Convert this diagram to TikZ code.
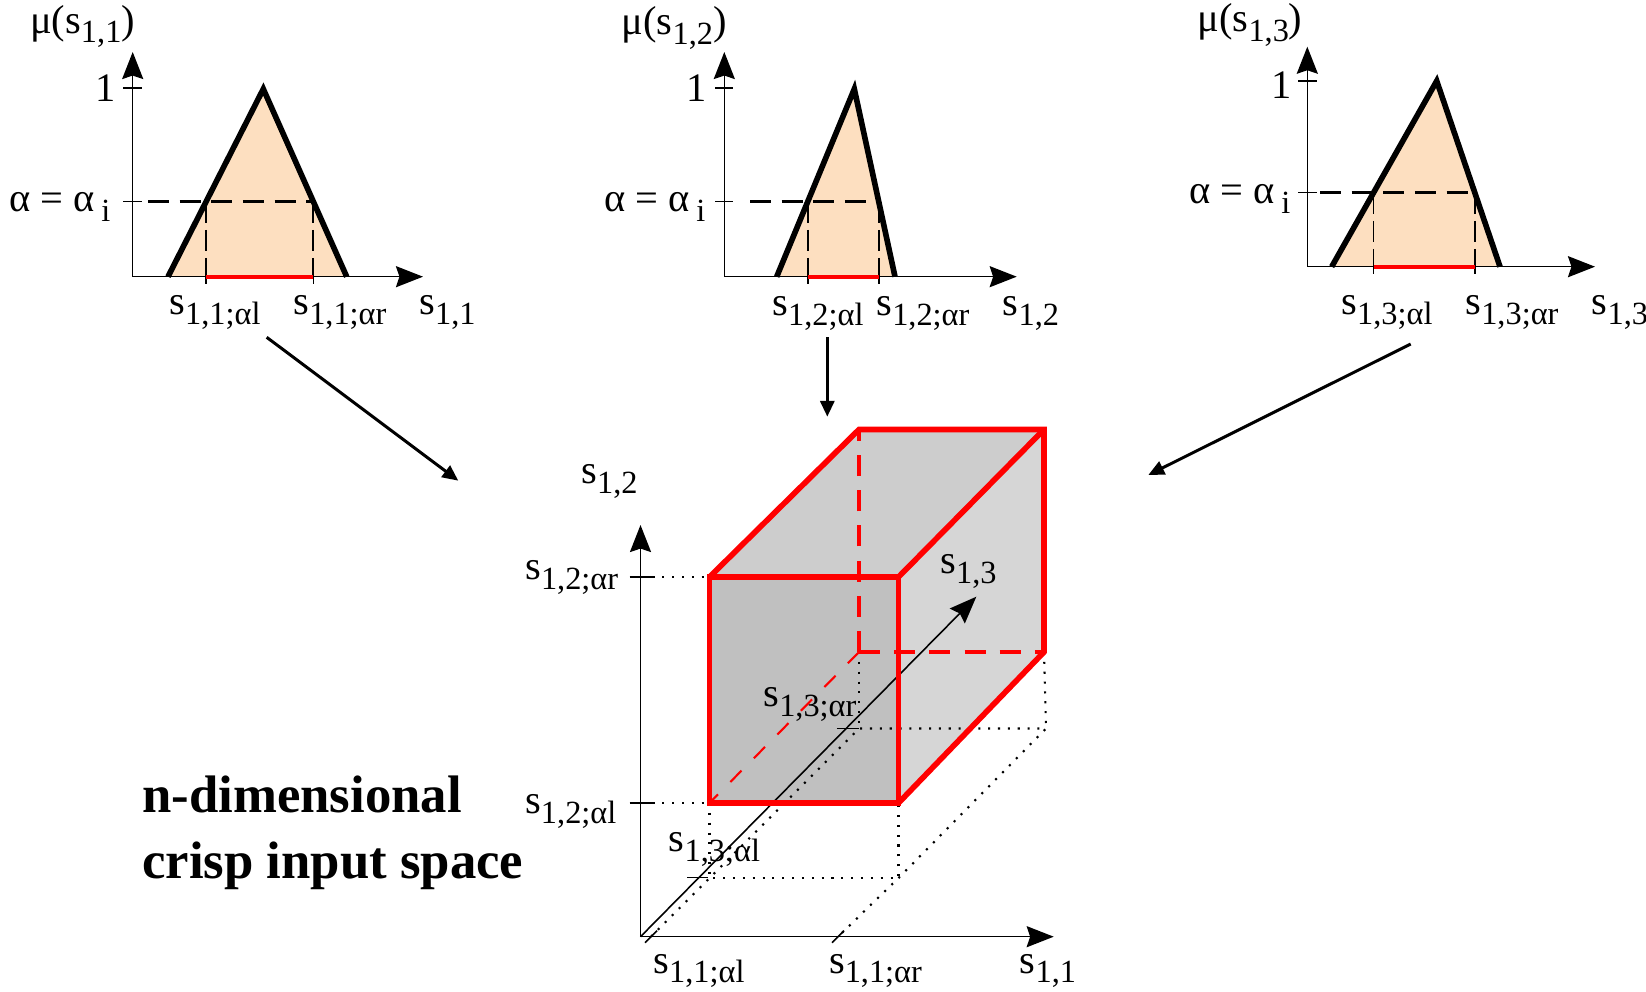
\documentclass[tikz,border=0pt]{standalone}
\usepackage{fontspec}
\setmainfont{Liberation Serif}
\usetikzlibrary{arrows.meta}
\definecolor{Peach}{HTML}{FDDFC0}
\definecolor{FrontGray}{HTML}{C0C0C0}
\definecolor{TopGray}{HTML}{CDCDCD}
\definecolor{SideGray}{HTML}{D6D6D6}
\definecolor{CutRed}{HTML}{FF0000}
\newcommand{\idx}[1]{\raisebox{-0.24em}{\fontsize{9.2}{10.5}\selectfont #1}}
\tikzset{
  axisline/.style={line width=0.45pt, -{Stealth[length=7.7pt,width=6pt,inset=1pt]}},
  tickline/.style={line width=0.45pt},
  mfline/.style={line width=1.6pt, line join=miter},
  cut/.style={line width=0.85pt, dash pattern=on 6pt off 3pt},
  drop/.style={line width=0.55pt, dash pattern=on 6pt off 2pt},
  supp/.style={draw=CutRed, line width=1.2pt},
  boxedge/.style={draw=CutRed, line width=1.6pt, line join=miter},
  hidden/.style={draw=CutRed, line width=1.2pt, dash pattern=on 6pt off 4pt},
  proj/.style={line width=0.6pt, dash pattern=on 0.6pt off 2.2pt},
  link/.style={line width=0.85pt, -{Triangle[length=4.5pt,width=4pt]}},
  lbl/.style={inner sep=0pt, anchor=base, font=\fontsize{11.5}{13.5}\selectfont},
  title/.style={inner sep=0pt, anchor=base west, font=\fontsize{15}{18}\selectfont\bfseries}
}

\begin{document}
\begin{tikzpicture}[x=0.01cm,y=-0.01cm]
  \useasboundingbox (0,0) rectangle (1646,992);
  % membership function of s_{1,1}
  \coordinate (o1) at (132.7,276.7);
  \coordinate (y1) at (132.7,52);
  \coordinate (x1) at (423,276.7);
  \fill[Peach] (168,276.7) -- (263.3,89) -- (346.7,276.7) -- cycle;
  \draw[axisline] (o1) -- (y1);
  \draw[axisline] (o1) -- (x1);
  \draw[tickline] (123,88.3) -- (142,88.3);
  \draw[tickline] (123,201.7) -- (142,201.7);
  \draw[cut] (148,201.7) -- (313.4,201.7);
  \draw[drop] (206.1,201.7) -- (206.1,276.7);
  \draw[drop] (313.4,201.7) -- (313.4,276.7);
  \draw[tickline] (206.1,276.7) -- (206.1,284);
  \draw[tickline] (313.4,276.7) -- (313.4,284);
  \draw[supp] (206.1,276.7) -- (313.4,276.7);
  \draw[mfline] (168,276.7) -- (263.3,89) -- (346.7,276.7);
  \node[lbl] (mu1) at (82.5,33.3) {μ(s\idx{1,1})};
  \node[lbl,anchor=base east] (one1) at (116,101.7) {1};
  \node[lbl,anchor=base east] (alpha1) at (111,212) {α = α\,\idx{i}};
  \node[lbl] (l1) at (215,315) {s\idx{1,1;αl}};
  \node[lbl] (r1) at (340,315) {s\idx{1,1;αr}};
  \node[lbl] (s1) at (447.5,315) {s\idx{1,1}};

  % membership function of s_{1,2}
  \coordinate (o2) at (724.3,276.7);
  \coordinate (y2) at (724.3,52);
  \coordinate (x2) at (1016.7,276.7);
  \fill[Peach] (776.7,276.7) -- (854.3,89) -- (895,276.7) -- cycle;
  \draw[axisline] (o2) -- (y2);
  \draw[axisline] (o2) -- (x2);
  \draw[tickline] (715,88.3) -- (733,88.3);
  \draw[tickline] (715,201.7) -- (733,201.7);
  \draw[cut] (750,201.7) -- (878.7,201.7);
  \draw[drop] (807.7,201.7) -- (807.7,276.7);
  \draw[drop] (878.7,201.7) -- (878.7,276.7);
  \draw[tickline] (807.7,276.7) -- (807.7,284);
  \draw[tickline] (878.7,276.7) -- (878.7,284);
  \draw[supp] (807.7,276.7) -- (878.7,276.7);
  \draw[mfline] (776.7,276.7) -- (854.3,89) -- (895,276.7);
  \node[lbl] (mu2) at (674.2,35) {μ(s\idx{1,2})};
  \node[lbl,anchor=base east] (one2) at (707,101.7) {1};
  \node[lbl,anchor=base east] (alpha2) at (706,212) {α = α\,\idx{i}};
  \node[lbl] (l2) at (818,316) {s\idx{1,2;αl}};
  \node[lbl] (r2) at (923,316) {s\idx{1,2;αr}};
  \node[lbl] (s2) at (1031,316) {s\idx{1,2}};

  % membership function of s_{1,3}
  \coordinate (o3) at (1307.3,266.7);
  \coordinate (y3) at (1307.3,46.7);
  \coordinate (x3) at (1595,266.7);
  \fill[Peach] (1331.7,266.7) -- (1436.7,81) -- (1500,266.7) -- cycle;
  \draw[axisline] (o3) -- (y3);
  \draw[axisline] (o3) -- (x3);
  \draw[tickline] (1298,81) -- (1317,81);
  \draw[tickline] (1298,192.7) -- (1317,192.7);
  \draw[cut] (1320,192.7) -- (1474.8,192.7);
  \draw[drop] (1373.5,192.7) -- (1373.5,266.7);
  \draw[drop] (1474.8,192.7) -- (1474.8,266.7);
  \draw[tickline] (1373.5,266.7) -- (1373.5,274);
  \draw[tickline] (1474.8,266.7) -- (1474.8,274);
  \draw[supp] (1373.5,266.7) -- (1474.8,266.7);
  \draw[mfline] (1331.7,266.7) -- (1436.7,81) -- (1500,266.7);
  \node[lbl] (mu3) at (1250,31.7) {μ(s\idx{1,3})};
  \node[lbl,anchor=base east] (one3) at (1292,98.3) {1};
  \node[lbl,anchor=base east] (alpha3) at (1291,204) {α = α\,\idx{i}};
  \node[lbl] (l3) at (1387,315) {s\idx{1,3;αl}};
  \node[lbl] (r3) at (1512,315) {s\idx{1,3;αr}};
  \node[lbl] (s3) at (1620,315) {s\idx{1,3}};

  % arrows into the input space
  \coordinate (c1s) at (266.7,337.3);
  \coordinate (c1e) at (458.3,480.7);
  \coordinate (c2s) at (827.3,337.3);
  \coordinate (c2e) at (827.3,416.7);
  \coordinate (c3s) at (1410.7,344);
  \coordinate (c3e) at (1148.3,475);
  \draw[link] (c1s) -- (c1e);
  \draw[link] (c2s) -- (c2e);
  \draw[link] (c3s) -- (c3e);

  % crisp box
  \coordinate (o) at (640.5,936.7);
  \coordinate (ytip) at (640.5,525);
  \coordinate (xtip) at (1053.7,936.7);
  \coordinate (ztip) at (976.3,596.7);
  \coordinate (ftl) at (709.5,577);
  \coordinate (ftr) at (898.5,577);
  \coordinate (fbr) at (898.5,803);
  \coordinate (fbl) at (709.5,803);
  \coordinate (btl) at (859,429.5);
  \coordinate (btr) at (1044,429.5);
  \coordinate (bbr) at (1044,652);
  \coordinate (bbl) at (859,652);
  \coordinate (gfl) at (709.5,878);
  \coordinate (gfr) at (898.5,878);
  \coordinate (gbl) at (859,728.5);
  \coordinate (gbr) at (1046,728.5);
  \coordinate (a1l) at (651,936.7);
  \coordinate (a1r) at (838,936.7);
  \fill[FrontGray] (ftl) -- (ftr) -- (fbr) -- (fbl) -- cycle;
  \fill[TopGray] (ftl) -- (btl) -- (btr) -- (ftr) -- cycle;
  \fill[SideGray] (ftr) -- (btr) -- (bbr) -- (fbr) -- cycle;
  \draw[axisline] (o) -- (ytip);
  \draw[axisline] (o) -- (xtip);
  \draw[axisline] (o) -- (ztip);
  \draw[tickline] (629.5,577) -- (652.5,577);
  \draw[tickline] (629.5,803) -- (652.5,803);
  \draw[tickline] (645,942.7) -- (657,930.7);
  \draw[tickline] (832,942.7) -- (844,930.7);
  \draw[tickline] (687,877.3) -- (708,877.3);
  \draw[tickline] (836.8,728.3) -- (859,728.3);
  \draw[proj] (652.5,577) -- (ftl);
  \draw[proj] (652.5,803) -- (fbl);
  \draw[proj] (fbl) -- (gfl) -- (gfr) -- (fbr);
  \draw[proj] (a1l) -- (gfl) -- (gbl) -- (gbr) -- (gfr) -- (a1r);
  \draw[proj] (bbl) -- (gbl);
  \draw[proj] (bbr) -- (gbr);
  \draw[hidden] (bbl) -- (btl);
  \draw[hidden] (bbl) -- (bbr);
  \draw[hidden,line width=0.6pt,dash pattern=on 4.5pt off 5pt] (bbl) -- (fbl);
  \draw[boxedge] (ftl) -- (ftr) -- (fbr) -- (fbl) -- cycle;
  \draw[boxedge] (ftl) -- (btl) -- (btr) -- (bbr) -- (fbr);
  \draw[boxedge] (ftr) -- (btr);
  \node[lbl] (s12) at (609.5,483.3) {s\idx{1,2}};
  \node[lbl] (s12r) at (571.7,580) {s\idx{1,2;αr}};
  \node[lbl] (s12l) at (570.8,813.3) {s\idx{1,2;αl}};
  \node[lbl] (s13) at (968.5,573.3) {s\idx{1,3}};
  \node[lbl] (s13r) at (810,706.7) {s\idx{1,3;αr}};
  \node[lbl] (s13l) at (714.5,851.7) {s\idx{1,3;αl}};
  \node[lbl] (s11l) at (699,973) {s\idx{1,1;αl}};
  \node[lbl] (s11r) at (875.5,973) {s\idx{1,1;αr}};
  \node[lbl] (s11) at (1048,973) {s\idx{1,1}};
  \node[title] (dim) at (141.7,813) {n-dimensional};
  \node[title] (space) at (141.7,878) {crisp input space};
\end{tikzpicture}
\end{document}
